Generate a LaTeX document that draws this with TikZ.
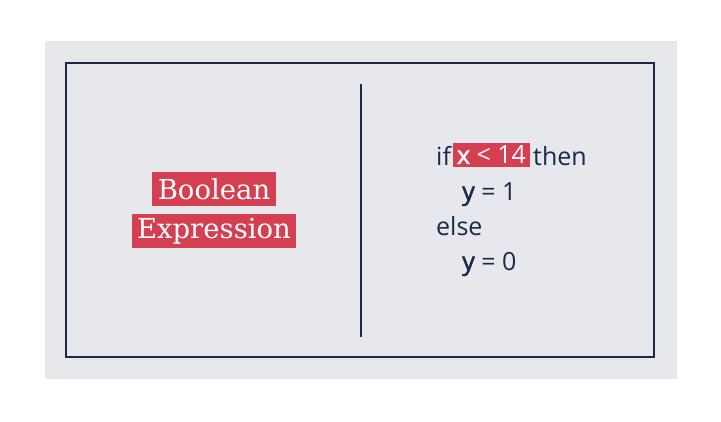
\documentclass[tikz,border=0pt]{standalone}
\usepackage{fontspec}
\setmainfont{Open Sans}
\newfontfamily\serifface{DejaVu Serif}
\newfontfamily\semib[FakeBold=2]{Open Sans}
\definecolor{bgray}{HTML}{E6E8EC}
\definecolor{navy}{HTML}{1B2A47}
\definecolor{hired}{HTML}{D43F52}
\tikzset{
  hl/.style={fill=hired, text=white, inner sep=0pt, minimum height=34pt},
  code/.style={text=navy, anchor=base west, inner sep=0pt, font=\fontsize{25}{28}\selectfont},
}
\begin{document}
\begin{tikzpicture}[x=1pt,y=-1pt]
\useasboundingbox[fill=white] (0,0) rectangle (721,421);
\fill[bgray] (45,41) rectangle (677,379);
\draw[navy, line width=1.6pt] (66,63) rectangle (654,357);
\coordinate (vt) at (361,84);
\coordinate (vb) at (361,337);
\draw[navy, line width=1.6pt] (vt) -- (vb);
\node[hl, minimum width=124pt, font=\serifface\fontsize{27.5}{30}\selectfont] (bool) at (214,189) {Boolean};
\node[hl, minimum width=164pt, font=\serifface\fontsize{27.5}{30}\selectfont] (expr) at (214,231) {Expression};
\node[code] (if) at (436,165) {if};
\node[fill=hired, text=white, inner sep=0pt, minimum width=77pt, minimum height=24pt, font=\fontsize{25}{28}\selectfont] (cond) at (491.5,155) {{\semib x} < 14};
\node[code] (then) at (533,165) {then};
\node[code] (y1) at (462,200) {{\semib y} = 1};
\node[code] (else) at (436,235) {else};
\node[code] (y0) at (462,270) {{\semib y} = 0};
\end{tikzpicture}
\end{document}
